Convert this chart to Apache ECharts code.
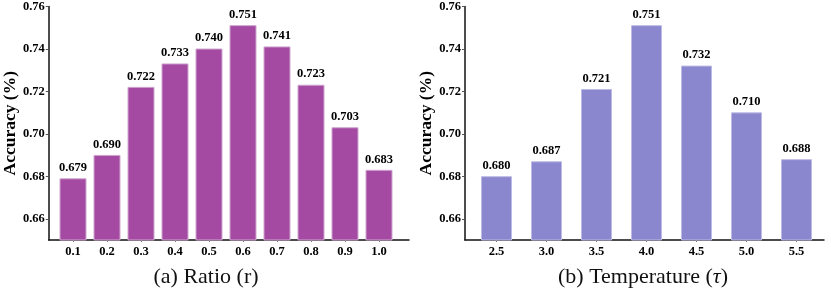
<!DOCTYPE html>
<html><head><meta charset="utf-8">
<script src="https://cdn.jsdelivr.net/npm/echarts@6/dist/echarts.min.js"></script>
<style>html,body{margin:0;padding:0;background:#fff}#c{width:831px;height:290px}</style>
</head><body><div id="c"></div>
<script>
const ratioCats = ['0.1','0.2','0.3','0.4','0.5','0.6','0.7','0.8','0.9','1.0'];
const ratioVals = [0.679,0.690,0.722,0.733,0.740,0.751,0.741,0.723,0.703,0.683];
const tempCats = ['2.5','3.0','3.5','4.0','4.5','5.0','5.5'];
const tempVals = [0.680,0.687,0.721,0.751,0.732,0.710,0.688];
const yMin = 0.65, yMax = 0.76;
const yName = 'Accuracy (%)';
const subA = '(a) Ratio (r)';
const subB = '(b) Temperature ({i|τ})';

const FONT = '"Liberation Serif","Times New Roman",serif';
const chart = echarts.init(document.getElementById('c'));

function axisY(gi, show) {
  return {
    type: 'value', gridIndex: gi, min: yMin, max: yMax, splitNumber: 5,
    show: show,
    name: show ? yName : '', nameLocation: 'middle', nameGap: 24, nameRotate: 90,
    nameTextStyle: {fontFamily: FONT, fontWeight: 'bold', fontSize: 17.5, color: '#000'},
    axisLine: {show: true, lineStyle: {color: '#111', width: 1.5}},
    axisTick: {show: true, length: 3, lineStyle: {color: '#555'}},
    axisLabel: {showMinLabel: false, margin: 4, fontFamily: FONT, fontWeight: 'bold', fontSize: 12.5, color: '#000',
      formatter: v => v.toFixed(2)},
    splitLine: {show: false}
  };
}
function axisXLine(gi) {
  return {type: 'value', gridIndex: gi, min: 0, max: 1,
    axisLine: {show: true, onZero: false, lineStyle: {color: '#111', width: 1.5}},
    axisTick: {show: false}, axisLabel: {show: false}, splitLine: {show: false}};
}
function axisXCat(gi, cats) {
  return {type: 'category', gridIndex: gi, data: cats, boundaryGap: true,
    axisLine: {show: true, onZero: false, lineStyle: {color: 'rgba(0,0,0,0)'}},
    axisTick: {show: true, alignWithLabel: true, length: 2, lineStyle: {color: '#777'}},
    axisLabel: {margin: 5, fontFamily: FONT, fontWeight: 'bold', fontSize: 12.5, color: '#000'},
    splitLine: {show: false}};
}
function barSeries(xi, yi, vals, color, border, bw) {
  return {type: 'bar', xAxisIndex: xi, yAxisIndex: yi, data: vals, barWidth: bw,
    itemStyle: {color: color, borderColor: border, borderWidth: 1},
    label: {show: true, position: 'top', distance: 4, fontFamily: FONT, fontWeight: 'bold', fontSize: 12.5, color: '#000',
      formatter: p => p.value.toFixed(3)},
    silent: true};
}

chart.setOption({
  animation: false,
  grid: [
    {left: 42, right: 422, top: 6, bottom: 50},
    {left: 56, width: 340, top: 6, bottom: 50},
    {left: 465, right: 7, top: 6, bottom: 50},
    {left: 471.5, width: 350, top: 6, bottom: 50}
  ],
  xAxis: [axisXLine(0), axisXCat(1, ratioCats), axisXLine(2), axisXCat(3, tempCats)],
  yAxis: [axisY(0, true), axisY(1, false), axisY(2, true), axisY(3, false)],
  series: [
    barSeries(1, 1, ratioVals, '#A44AA2', '#cfa6cf', 27),
    barSeries(3, 3, tempVals, '#8A87CF', '#bdbbe3', 31)
  ],
  graphic: [
    {type: 'text', x: 206, y: 277, style: {text: subA, align: 'center', verticalAlign: 'middle',
      fontFamily: FONT, fontSize: 22, fill: '#111'}},
    {type: 'text', x: 643, y: 277, style: {text: subB, align: 'center', verticalAlign: 'middle',
      fontFamily: FONT, fontSize: 22, fill: '#111',
      rich: {i: {fontFamily: FONT, fontSize: 22, fontStyle: 'italic', fill: '#111'}}}}
  ]
});
</script></body></html>
